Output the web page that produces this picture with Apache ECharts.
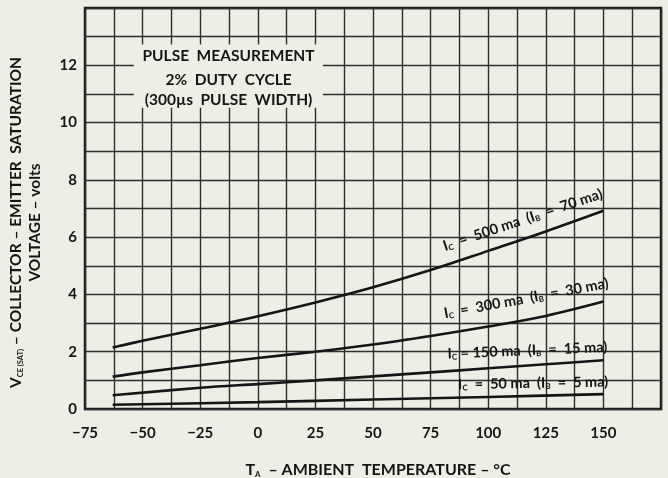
<!DOCTYPE html>
<html><head><meta charset="utf-8">
<script src="https://cdn.jsdelivr.net/npm/echarts@6/dist/echarts.min.js"></script>
<style>html,body{margin:0;padding:0;background:#eeeee7;}#c{width:668px;height:478px;}</style>
</head><body><div id="c"></div>
<script>
// ---- data ----
const temps500 = [-63, -50, -25, 0, 25, 50, 75, 100, 125, 150];
const vce500   = [2.15, 2.38, 2.80, 3.24, 3.72, 4.25, 4.85, 5.52, 6.20, 6.92];
const temps300 = [-63, -50, -25, 0, 25, 50, 75, 100, 125, 150];
const vce300   = [1.13, 1.28, 1.53, 1.78, 2.00, 2.25, 2.55, 2.88, 3.25, 3.75];
const temps150 = [-63, -25, 0, 25, 50, 75, 100, 125, 150];
const vce150   = [0.48, 0.74, 0.87, 1.00, 1.14, 1.28, 1.42, 1.56, 1.70];
const temps50  = [-63, 0, 50, 100, 150];
const vce50    = [0.15, 0.24, 0.33, 0.42, 0.52];
const xTickLabels = [-75, -50, -25, 0, 25, 50, 75, 100, 125, 150];
const yTickLabels = [0, 2, 4, 6, 8, 10, 12];
const curveLabels = [
  '{n|I}{s|C}{n|  =  500 ma  (I}{s|B}{n|  =  70 ma)}',
  '{n|I}{s|C}{n|  =  300 ma  (I}{s|B}{n|  =  30 ma)}',
  '{n|I}{s|C}{n| = 150 ma  (I}{s|B}{n|  =  15 ma)}',
  '{n|I}{s|C}{n|  =  50 ma  (I}{s|B}{n|  =  5 ma)}'
];
const noteLines = ['PULSE  MEASUREMENT', '2%  DUTY  CYCLE', '(300\u00b5s  PULSE  WIDTH)'];

const FONT = 'Lato';
const INK = '#151515';
const BG = '#eeeee7';
const zip = (xs, ys) => xs.map((x, i) => [x, ys[i]]);

const chart = echarts.init(document.getElementById('c'), null, {renderer: 'canvas'});
const lineSeries = (name, xs, ys) => ({
  name, type: 'line', data: zip(xs, ys), showSymbol: false, smooth: 0.35,
  lineStyle: {color: INK, width: 2.6}, z: 5, silent: true
});
const fmtMinus = v => String(v).replace('-', '\u2212');

chart.setOption({
  backgroundColor: BG,
  animation: false,
  grid: {left: 85, right: 7, top: 8, bottom: 69, show: true, borderColor: '#1a1a1a', borderWidth: 2.5,
         containLabel: false, outerBoundsMode: 'none'},
  xAxis: {
    type: 'value', min: -75, max: 175, interval: 12.5,
    axisLine: {show: false}, axisTick: {show: false},
    splitLine: {show: true, lineStyle: {color: '#2e2e2e', width: 1.4}},
    axisLabel: {
      margin: 17, color: INK, fontFamily: FONT, fontSize: 15, fontWeight: 'bold',
      formatter: v => xTickLabels.includes(v) ? fmtMinus(v) : ''
    },
    name: '{t|T}{a|A}{t|  \u2013 AMBIENT  TEMPERATURE \u2013 \u00b0C}',
    nameLocation: 'middle', nameGap: 53,
    nameTextStyle: {padding: [0, 0, 0, 10], rich: {
      t: {fontFamily: FONT, fontSize: 16, fontWeight: 'bold', color: INK},
      a: {fontFamily: FONT, fontSize: 8, fontWeight: 'bold', color: INK, verticalAlign: 'bottom', padding: [6, 0, 0, 0]}
    }}
  },
  yAxis: {
    type: 'value', min: 0, max: 14, interval: 1,
    axisLine: {show: false}, axisTick: {show: false},
    splitLine: {show: true, lineStyle: {color: '#2e2e2e', width: 1.4}},
    axisLabel: {
      margin: 8, color: INK, fontFamily: FONT, fontSize: 15, fontWeight: 'bold',
      formatter: v => yTickLabels.includes(v) ? String(v) : ''
    },
    name: '{t|V}{a|CE (SAT)}{t| \u2013 COLLECTOR \u2013 EMITTER  SATURATION}\n{t|VOLTAGE \u2013 volts}',
    nameLocation: 'middle', nameGap: 41, nameRotate: 90,
    nameTextStyle: {lineHeight: 19, padding: [0, 28, 0, 0], rich: {
      t: {fontFamily: FONT, fontSize: 15.5, fontWeight: 'bold', color: INK, lineHeight: 19},
      a: {fontFamily: FONT, fontSize: 7.5, fontWeight: 'bold', color: INK, lineHeight: 19, verticalAlign: 'bottom'}
    }}
  },
  series: [
    lineSeries('IC = 500 ma', temps500, vce500),
    lineSeries('IC = 300 ma', temps300, vce300),
    lineSeries('IC = 150 ma', temps150, vce150),
    lineSeries('IC = 50 ma', temps50, vce50)
  ]
});

// ---- annotations positioned through the chart's own scales ----
const P = (x, y) => chart.convertToPixel({gridIndex: 0}, [x, y]);
const labelAnchors = [[115, 6.6, 18.5], [116.5, 3.86, 10.5], [117, 2.04, 2.4], [119.5, 0.9, 1]];
const rich = {
  n: {fontFamily: FONT, fontSize: 14.5, fontWeight: 'bold', fill: INK, color: INK},
  s: {fontFamily: FONT, fontSize: 8, fontWeight: 'bold', fill: INK, color: INK, verticalAlign: 'bottom', padding: [7, 0, 0, 0]}
};
const graphics = curveLabels.map((txt, i) => {
  const [x, y, deg] = labelAnchors[i];
  const p = P(x, y);
  return {type: 'text', x: p[0], y: p[1], rotation: deg * Math.PI / 180, z: 10,
    style: {text: txt, rich, x: 0, y: 0, align: 'center', verticalAlign: 'middle'}};
});
const b0 = P(-53.8, 12.73), b1 = P(28.3, 10.52);
graphics.push({type: 'rect', z: 8, shape: {x: b0[0], y: b0[1], width: b1[0] - b0[0], height: b1[1] - b0[1]}, style: {fill: BG}});
const noteY = [12.31, 11.5, 10.8];
noteLines.forEach((t, i) => {
  const c = P(-12.7, noteY[i]);
  graphics.push({type: 'text', z: 10, x: c[0], y: c[1],
    style: {text: t, x: 0, y: 0, align: 'center', verticalAlign: 'middle',
      font: 'bold 15.5px ' + FONT, fill: INK}});
});
chart.setOption({graphic: graphics});
</script></body></html>
